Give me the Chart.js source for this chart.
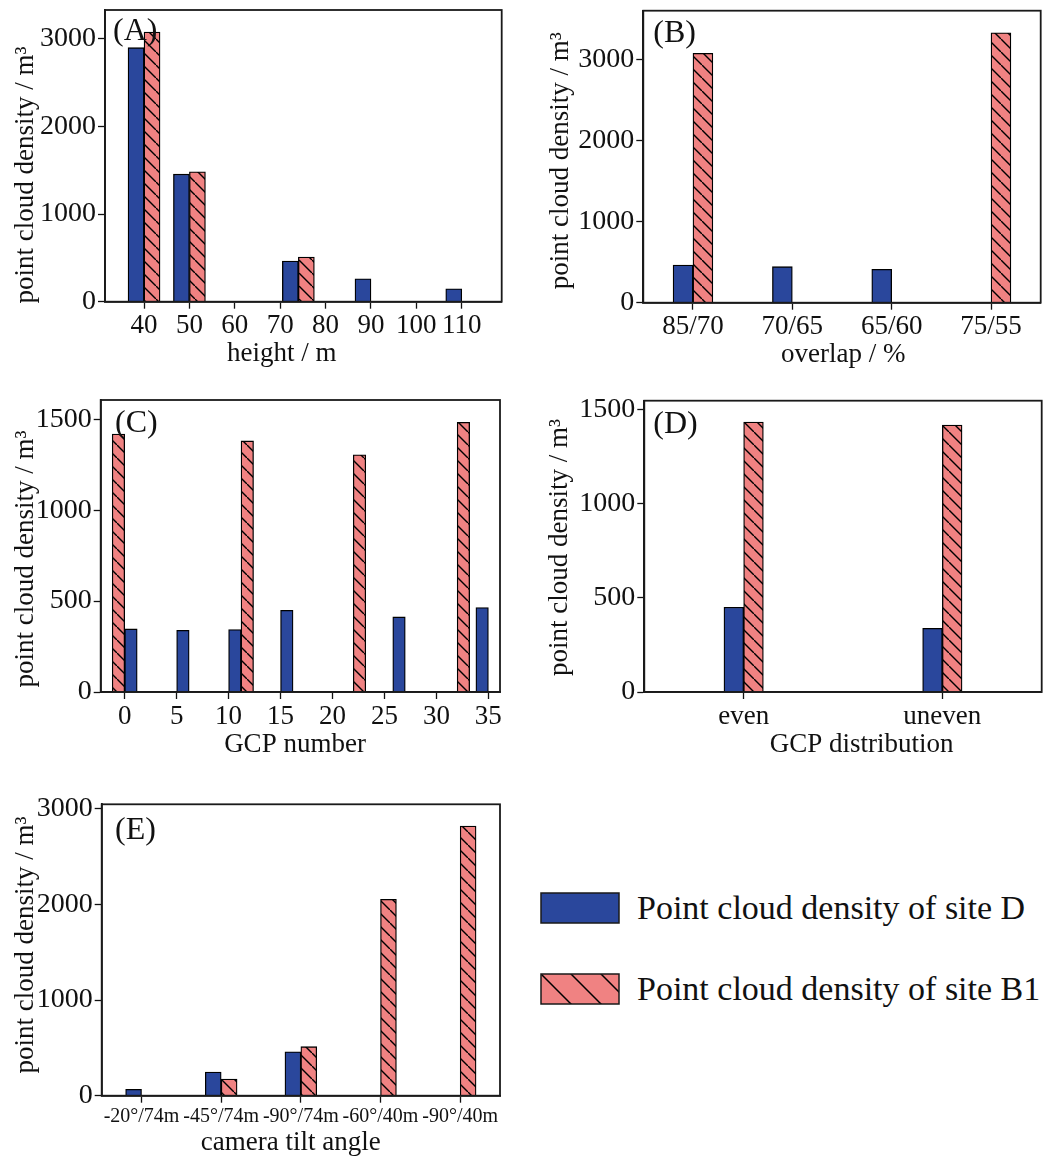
<!DOCTYPE html>
<html>
<head>
<meta charset="utf-8">
<title>Point cloud density</title>
<script src="https://cdn.jsdelivr.net/npm/chart.js@4.4.1/dist/chart.umd.min.js"></script>
<style>
  html, body { margin: 0; padding: 0; background: #fff; }
  #page { position: relative; width: 1045px; height: 1162px; overflow: hidden;
          font-family: 'Liberation Serif', 'Times New Roman', serif; color: #111; }
  .panel { position: absolute; }
  .panel canvas { display: block; }
  .legend-row { position: absolute; left: 540px; display: flex; align-items: center; }
  .legend-row canvas { display: block; }
  .legend-row span { margin-left: 17px; font-size: 34px; line-height: 1; white-space: nowrap; }
</style>
</head>
<body>
<div id="page">
  <div class="panel" style="left:0;top:0"><canvas id="chartA" width="520" height="380"></canvas></div>
  <div class="panel" style="left:520px;top:0"><canvas id="chartB" width="525" height="380"></canvas></div>
  <div class="panel" style="left:0;top:380px"><canvas id="chartC" width="520" height="400"></canvas></div>
  <div class="panel" style="left:520px;top:380px"><canvas id="chartD" width="525" height="400"></canvas></div>
  <div class="panel" style="left:0;top:780px"><canvas id="chartE" width="520" height="382"></canvas></div>
  <div class="legend-row" style="top:891px"><canvas id="swatchD" width="80" height="32"></canvas><span>Point cloud density of site D</span></div>
  <div class="legend-row" style="top:972px"><canvas id="swatchB1" width="80" height="32"></canvas><span>Point cloud density of site B1</span></div>
</div>
<script>
// ---- (A) flight height ----
const heightSiteD = [40, 50, 74, 90, 110];
const densityHeightD = [2900, 1456, 464, 262, 148];
const heightSiteB1 = [40, 50, 74];
const densityHeightB1 = [3079, 1482, 510];
const heightTicks = [40, 50, 60, 70, 80, 90, 100, 110];

// ---- (B) image overlap ----
const overlapLabels = ['85/70', '70/65', '65/60', '75/55'];
const densityOverlapD = [466, 445, 413, null];
const densityOverlapB1 = [3083, null, null, 3337];

// ---- (C) number of ground control points ----
const gcpSiteD = [0, 5, 10, 15, 25.8, 33.8];
const densityGcpD = [347, 339, 343, 449, 413, 464];
const gcpSiteB1 = [0, 12.4, 23.2, 33.2];
const densityGcpB1 = [1419, 1381, 1305, 1483];
const gcpTicks = [0, 5, 10, 15, 20, 25, 30, 35];

// ---- (D) GCP distribution ----
const distributionLabels = ['even', 'uneven'];
const densityDistD = [450, 338];
const densityDistB1 = [1433, 1417];

// ---- (E) camera tilt angle ----
const tiltLabels = ['-20°/74m', '-45°/74m', '-90°/74m', '-60°/40m', '-90°/40m'];
const densityTiltD = [67, 248, 460, null, null];
const densityTiltB1 = [null, 175, 513, 2054, 2821];

const yTitle = 'point cloud density / m³';
const legendLabels = ['Point cloud density of site D', 'Point cloud density of site B1'];

const FONT = "'Liberation Serif', 'Times New Roman', serif";
const BLUE = '#2a479c';
const PINK = '#f08282';
const INK = '#111111';

Chart.defaults.font.family = FONT;
Chart.defaults.color = INK;
Chart.defaults.animation = false;

// diagonal "\" hatch used for site B1
function hatchPattern(ctx, step, width) {
  const c = document.createElement('canvas');
  c.width = step; c.height = step;
  const g = c.getContext('2d');
  g.fillStyle = PINK;
  g.fillRect(0, 0, step, step);
  g.strokeStyle = '#000';
  g.lineWidth = width;
  g.beginPath();
  g.moveTo(-step, -step); g.lineTo(2 * step, 2 * step);
  g.moveTo(-step, 0); g.lineTo(step, 2 * step);
  g.moveTo(0, -step); g.lineTo(2 * step, step);
  g.stroke();
  return ctx.createPattern(c, 'repeat');
}
const barHatch = hatchPattern(document.createElement('canvas').getContext('2d'), 13.5, 1.4);

// frame around the plot area, panel tag and axis titles
const decorations = {
  id: 'decorations',
  afterDraw(chart, args, o) {
    const { ctx, chartArea: a } = chart;
    ctx.save();
    ctx.strokeStyle = '#1a1a1a';
    ctx.lineWidth = 1.8;
    ctx.strokeRect(a.left, a.top, a.right - a.left, a.bottom - a.top);
    ctx.fillStyle = INK;
    ctx.textBaseline = 'alphabetic';
    ctx.textAlign = 'left';
    ctx.font = '32px ' + FONT;
    ctx.fillText(o.tag, a.left + o.tagDx, a.top + o.tagDy);
    ctx.font = '27px ' + FONT;
    ctx.textAlign = 'center';
    ctx.fillText(o.xTitle, o.xTitleX, o.xTitleY);
    ctx.translate(o.yTitleX, o.yTitleY);
    ctx.rotate(-Math.PI / 2);
    ctx.fillText(o.yTitle, 0, 0);
    ctx.restore();
  }
};

function fixedBox(size) {
  return function (scale) {
    if (scale.isHorizontal()) scale.height = size; else scale.width = size;
    scale.paddingTop = scale.paddingBottom = scale.paddingLeft = scale.paddingRight = 0;
  };
}

function explicitTicks(values) {
  return function (scale) { scale.ticks = values.map(v => ({ value: v })); };
}

function plainNumber(value) { return String(value); }

function seriesStyle(isB1, thickness) {
  return {
    backgroundColor: isB1 ? barHatch : BLUE,
    borderColor: '#000',
    borderWidth: 1.3,
    borderSkipped: 'bottom',
    barThickness: thickness,
    grouped: true,
    skipNull: false
  };
}

function makeOptions(p) {
  const xTicks = { font: { size: p.xFont || 27, lineHeight: 1 }, padding: p.xPad, maxRotation: 0,
                   autoSkip: false, color: INK };
  if (p.xType === 'linear') xTicks.callback = plainNumber;
  return {
    responsive: false,
    maintainAspectRatio: false,
    layout: { padding: p.padding },
    plugins: {
      legend: { display: false },
      tooltip: { enabled: false },
      decorations: p.deco
    },
    scales: {
      x: Object.assign({
        offset: p.xType === 'category',
        grid: { display: true, drawOnChartArea: false, drawTicks: true, tickLength: 7,
                tickColor: '#111', tickWidth: 1.3, offset: false },
        border: { display: true, color: '#1a1a1a', width: 1.8 },
        ticks: xTicks,
        afterFit: fixedBox(p.xBox)
      }, p.x),
      y: {
        type: 'linear',
        min: 0,
        max: p.yMax,
        grid: { display: true, drawOnChartArea: false, drawTicks: true, tickLength: 7,
                tickColor: '#111', tickWidth: 1.3 },
        border: { display: true, color: '#1a1a1a', width: 1.8 },
        ticks: { font: { size: 28, lineHeight: 1 }, padding: 2, color: INK, callback: plainNumber },
        afterBuildTicks: explicitTicks(p.yTicks),
        afterFit: fixedBox(p.yBox)
      }
    }
  };
}

// (A)
new Chart(document.getElementById('chartA'), {
  type: 'bar',
  data: {
    datasets: [
      Object.assign({ label: legendLabels[0], data: heightSiteD.map((h, i) => ({ x: h, y: densityHeightD[i] })) }, seriesStyle(false, 16)),
      Object.assign({ label: legendLabels[1], data: heightSiteB1.map((h, i) => ({ x: h, y: densityHeightB1[i] })) }, seriesStyle(true, 16))
    ]
  },
  options: makeOptions({
    padding: { left: 0, top: 10, right: 18.3, bottom: 38.3 },
    xType: 'linear', xBox: 40, yBox: 105, xPad: 4, yMax: 3330,
    yTicks: [0, 1000, 2000, 3000],
    x: { type: 'linear', min: 31.4, max: 118.8, afterBuildTicks: explicitTicks(heightTicks) },
    deco: { tag: '(A)', tagDx: 8, tagDy: 29.5, xTitle: 'height / m', xTitleX: 281.7, xTitleY: 361,
            yTitle: yTitle, yTitleX: 33.3, yTitleY: 175 }
  }),
  plugins: [decorations]
});

// (B)
new Chart(document.getElementById('chartB'), {
  type: 'bar',
  data: {
    labels: overlapLabels,
    datasets: [
      Object.assign({ label: legendLabels[0], data: densityOverlapD }, seriesStyle(false, 19.9)),
      Object.assign({ label: legendLabels[1], data: densityOverlapB1 }, seriesStyle(true, 19.9))
    ]
  },
  options: makeOptions({
    padding: { left: 0, top: 10.7, right: 4.3, bottom: 37.3 },
    xType: 'category', xBox: 40, yBox: 123.3, xPad: 4, yMax: 3609,
    yTicks: [0, 1000, 2000, 3000],
    x: { type: 'category' },
    deco: { tag: '(B)', tagDx: 10, tagDy: 31, xTitle: 'overlap / %', xTitleX: 323.3, xTitleY: 361.7,
            yTitle: yTitle, yTitleX: 48.3, yTitleY: 160.8 }
  }),
  plugins: [decorations]
});

// (C)
new Chart(document.getElementById('chartC'), {
  type: 'bar',
  data: {
    datasets: [
      Object.assign({ label: legendLabels[1], data: gcpSiteB1.map((g, i) => ({ x: g, y: densityGcpB1[i] })) }, seriesStyle(true, 12.5)),
      Object.assign({ label: legendLabels[0], data: gcpSiteD.map((g, i) => ({ x: g, y: densityGcpD[i] })) }, seriesStyle(false, 12.5))
    ]
  },
  options: makeOptions({
    padding: { left: 0, top: 20, right: 20, bottom: 48 },
    xType: 'linear', xBox: 40, yBox: 100.7, xPad: 4, yMax: 1606,
    yTicks: [0, 500, 1000, 1500],
    x: { type: 'linear', min: -2.31, max: 36.12, afterBuildTicks: explicitTicks(gcpTicks) },
    deco: { tag: '(C)', tagDx: 14.3, tagDy: 32.3, xTitle: 'GCP number', xTitleX: 295, xTitleY: 372,
            yTitle: yTitle, yTitleX: 33.3, yTitleY: 179 }
  }),
  plugins: [decorations]
});

// (D)
new Chart(document.getElementById('chartD'), {
  type: 'bar',
  data: {
    labels: distributionLabels,
    datasets: [
      Object.assign({ label: legendLabels[0], data: densityDistD }, seriesStyle(false, 19.7)),
      Object.assign({ label: legendLabels[1], data: densityDistB1 }, seriesStyle(true, 19.7))
    ]
  },
  options: makeOptions({
    padding: { left: 0, top: 20.7, right: 3.3, bottom: 48 },
    xType: 'category', xBox: 40, yBox: 124.3, xPad: 4, yMax: 1546,
    yTicks: [0, 500, 1000, 1500],
    x: { type: 'category' },
    deco: { tag: '(D)', tagDx: 9, tagDy: 32.6, xTitle: 'GCP distribution', xTitleX: 341.7, xTitleY: 371.7,
            yTitle: yTitle, yTitleX: 46.7, yTitleY: 167.5 }
  }),
  plugins: [decorations]
});

// (E)
new Chart(document.getElementById('chartE'), {
  type: 'bar',
  data: {
    labels: tiltLabels,
    datasets: [
      Object.assign({ label: legendLabels[0], data: densityTiltD }, seriesStyle(false, 15.9)),
      Object.assign({ label: legendLabels[1], data: densityTiltB1 }, seriesStyle(true, 15.9))
    ]
  },
  options: makeOptions({
    padding: { left: 0, top: 24.3, right: 20, bottom: 26.3 },
    xType: 'category', xBox: 40, yBox: 101.7, xPad: 4, xFont: 20, yMax: 3048,
    yTicks: [0, 1000, 2000, 3000],
    x: { type: 'category' },
    deco: { tag: '(E)', tagDx: 13.3, tagDy: 35, xTitle: 'camera tilt angle', xTitleX: 290.8, xTitleY: 370,
            yTitle: yTitle, yTitleX: 33.3, yTitleY: 165 }
  }),
  plugins: [decorations]
});

// legend swatches
function drawSwatch(id, fill) {
  const g = document.getElementById(id).getContext('2d');
  g.fillStyle = fill;
  g.fillRect(1, 1, 78, 30);
  g.strokeStyle = '#1a1a1a';
  g.lineWidth = 1.5;
  g.strokeRect(1, 1, 78, 30);
}
drawSwatch('swatchD', BLUE);
drawSwatch('swatchB1', hatchPattern(document.getElementById('swatchB1').getContext('2d'), 30, 1.5));
</script>
</body>
</html>
